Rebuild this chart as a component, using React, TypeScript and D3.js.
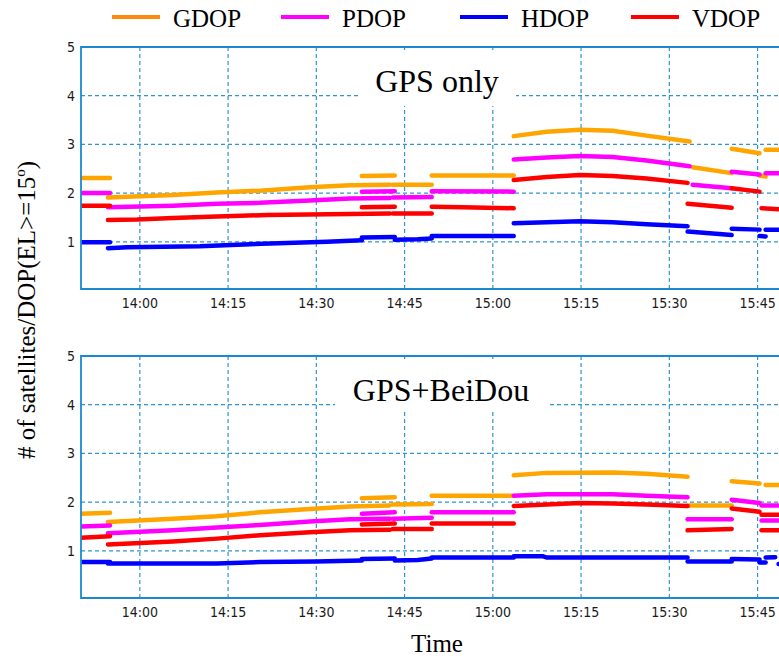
import { useMemo } from "react";
import * as d3 from "d3";

type Seg = [string, number][];

// ---- data (time "HH:MM:SS", DOP value) ----
const gpsGdop: Seg[] = [
  [["13:50:00", 2.31], ["13:54:56", 2.31]],
  [["13:54:35", 1.91], ["14:05:38", 1.96], ["14:13:06", 2.01], ["14:20:24", 2.05], ["14:28:54", 2.12], ["14:35:42", 2.16], ["14:42:29", 2.17]],
  [["14:37:44", 2.35], ["14:43:20", 2.36]],
  [["14:43:00", 2.17], ["14:49:37", 2.17]],
  [["14:49:37", 2.36], ["15:03:33", 2.36]],
  [["15:03:33", 3.17], ["15:09:10", 3.26], ["15:14:46", 3.3], ["15:20:22", 3.28], ["15:26:08", 3.18], ["15:33:27", 3.06]],
  [["15:33:58", 2.53], ["15:40:36", 2.41]],
  [["15:40:36", 2.91], ["15:45:20", 2.82]],
  [["15:45:20", 2.36], ["15:46:22", 2.34]],
  [["15:46:22", 2.89], ["15:50:00", 2.89]],
];
const gpsPdop: Seg[] = [
  [["13:50:00", 2.0], ["13:54:56", 2.0]],
  [["13:54:35", 1.71], ["14:05:38", 1.74], ["14:13:06", 1.78], ["14:20:24", 1.8], ["14:28:54", 1.85], ["14:35:42", 1.89], ["14:42:29", 1.9]],
  [["14:37:44", 2.03], ["14:43:20", 2.04]],
  [["14:43:00", 1.91], ["14:49:37", 1.92]],
  [["14:49:37", 2.04], ["15:03:33", 2.03]],
  [["15:03:33", 2.69], ["15:09:10", 2.73], ["15:14:46", 2.76], ["15:20:22", 2.74], ["15:26:08", 2.67], ["15:33:27", 2.55]],
  [["15:33:58", 2.17], ["15:40:36", 2.1]],
  [["15:40:36", 2.44], ["15:45:20", 2.38]],
  [["15:46:22", 2.41], ["15:50:00", 2.41]],
];
const gpsHdop: Seg[] = [
  [["13:50:00", 0.99], ["13:54:56", 0.99]],
  [["13:54:35", 0.87], ["13:57:49", 0.89], ["14:10:13", 0.91], ["14:18:42", 0.95], ["14:31:48", 1.0], ["14:37:44", 1.03]],
  [["14:37:44", 1.09], ["14:43:20", 1.1]],
  [["14:43:20", 1.04], ["14:47:14", 1.05], ["14:49:37", 1.07]],
  [["14:49:37", 1.12], ["15:03:33", 1.12]],
  [["15:03:33", 1.38], ["15:14:46", 1.42], ["15:20:22", 1.4], ["15:26:08", 1.36], ["15:33:06", 1.32]],
  [["15:33:06", 1.21], ["15:40:36", 1.14]],
  [["15:40:36", 1.27], ["15:45:20", 1.25]],
  [["15:45:20", 1.12], ["15:46:22", 1.11]],
  [["15:46:22", 1.25], ["15:50:00", 1.25]],
];
const gpsVdop: Seg[] = [
  [["13:50:00", 1.74], ["13:54:56", 1.74]],
  [["13:54:35", 1.45], ["13:59:31", 1.46], ["14:05:38", 1.49], ["14:13:06", 1.52], ["14:21:36", 1.55], ["14:35:42", 1.57], ["14:42:29", 1.58]],
  [["14:37:44", 1.71], ["14:43:20", 1.72]],
  [["14:43:00", 1.58], ["14:49:37", 1.58]],
  [["14:49:37", 1.72], ["14:54:53", 1.71], ["15:03:33", 1.69]],
  [["15:03:33", 2.27], ["15:09:10", 2.33], ["15:14:46", 2.37], ["15:20:22", 2.35], ["15:26:08", 2.3], ["15:33:06", 2.21]],
  [["15:33:06", 1.78], ["15:40:36", 1.7]],
  [["15:40:36", 2.1], ["15:45:20", 2.03]],
  [["15:45:40", 1.69], ["15:50:00", 1.66]],
];

const bdsGdop: Seg[] = [
  [["13:50:00", 1.76], ["13:54:56", 1.78]],
  [["13:54:35", 1.59], ["14:05:38", 1.66], ["14:13:06", 1.71], ["14:20:24", 1.79], ["14:28:54", 1.86], ["14:35:42", 1.91], ["14:42:29", 1.93]],
  [["14:37:44", 2.08], ["14:43:20", 2.1]],
  [["14:43:00", 1.95], ["14:49:37", 1.96]],
  [["14:49:37", 2.13], ["15:03:33", 2.13]],
  [["15:03:33", 2.55], ["15:09:10", 2.6], ["15:20:22", 2.61], ["15:26:08", 2.58], ["15:33:06", 2.52]],
  [["15:33:06", 1.93], ["15:40:36", 1.93]],
  [["15:40:36", 2.43], ["15:45:20", 2.38]],
  [["15:46:22", 2.35], ["15:50:00", 2.35]],
];
const bdsPdop: Seg[] = [
  [["13:50:00", 1.5], ["13:54:56", 1.52]],
  [["13:54:35", 1.36], ["14:05:38", 1.42], ["14:13:06", 1.48], ["14:20:24", 1.53], ["14:28:54", 1.6], ["14:35:42", 1.65], ["14:42:29", 1.66]],
  [["14:37:44", 1.76], ["14:43:20", 1.79]],
  [["14:43:00", 1.66], ["14:49:37", 1.68]],
  [["14:49:37", 1.79], ["15:03:33", 1.79]],
  [["15:03:33", 2.13], ["15:09:10", 2.16], ["15:20:22", 2.16], ["15:26:08", 2.13], ["15:33:06", 2.1]],
  [["15:33:06", 1.65], ["15:40:36", 1.65]],
  [["15:40:36", 2.05], ["15:45:20", 1.98]],
  [["15:45:40", 1.93], ["15:50:00", 1.93]],
  [["15:45:40", 1.62], ["15:50:00", 1.62]],
];
const bdsHdop: Seg[] = [
  [["13:50:00", 0.77], ["13:54:56", 0.77]],
  [["13:54:35", 0.74], ["14:13:06", 0.74], ["14:20:24", 0.77], ["14:30:00", 0.78], ["14:37:44", 0.8]],
  [["14:37:44", 0.83], ["14:43:20", 0.84]],
  [["14:43:20", 0.8], ["14:47:14", 0.81], ["14:49:37", 0.84]],
  [["14:49:37", 0.86], ["15:03:33", 0.86]],
  [["15:03:33", 0.89], ["15:08:30", 0.89], ["15:09:10", 0.86], ["15:33:06", 0.86]],
  [["15:33:06", 0.78], ["15:40:36", 0.78]],
  [["15:40:36", 0.83], ["15:45:20", 0.82]],
  [["15:45:20", 0.76], ["15:46:22", 0.76]],
  [["15:46:22", 0.86], ["15:48:00", 0.87]],
  [["15:48:34", 0.73], ["15:50:00", 0.73]],
];
const bdsVdop: Seg[] = [
  [["13:50:00", 1.27], ["13:54:56", 1.3]],
  [["13:54:35", 1.13], ["14:05:38", 1.19], ["14:13:06", 1.25], ["14:20:24", 1.32], ["14:28:54", 1.38], ["14:35:42", 1.42], ["14:42:29", 1.43]],
  [["14:37:44", 1.54], ["14:43:20", 1.56]],
  [["14:43:00", 1.45], ["14:49:37", 1.45]],
  [["14:49:37", 1.56], ["15:03:33", 1.56]],
  [["15:03:33", 1.92], ["15:09:10", 1.95], ["15:14:46", 1.98], ["15:20:22", 1.97], ["15:26:08", 1.95], ["15:33:06", 1.92]],
  [["15:33:06", 1.42], ["15:40:36", 1.45]],
  [["15:40:36", 1.87], ["15:45:20", 1.8]],
  [["15:45:40", 1.74], ["15:50:00", 1.74]],
  [["15:45:40", 1.42], ["15:50:00", 1.42]],
];

const seriesNames = ["GDOP", "PDOP", "HDOP", "VDOP"];
const seriesColors = ["#ffa500", "#ff00ff", "#0000ff", "#ff0000"];
const legendColors = ["#ff8a10", "#ff00ff", "#0000ff", "#ff0000"];
const yTicks = [1, 2, 3, 4, 5];
const timeDomain = ["13:50:00", "15:50:00"];
const tickTimes = ["14:00:00", "14:15:00", "14:30:00", "14:45:00", "15:00:00", "15:15:00", "15:30:00", "15:45:00"];

const parse = d3.timeParse("%H:%M:%S");
const fmt = d3.timeFormat("%H:%M");

const W = 779;
const H = 659;
const left = 81;
const right = 787;
const gridColor = "#2f95d0";
const frameColor = "#1a8ad0";
const tickFont = "'DejaVu Sans Condensed', 'DejaVu Sans', sans-serif";
const serif = "'Liberation Serif', 'Times New Roman', serif";

function Panel({ top, series, title, titleBox }: { top: number; series: Seg[][]; title: string; titleBox: [number, number, number] }) {
  const x = useMemo(() => d3.scaleTime().domain(timeDomain.map((t) => parse(t)!)).range([left, right]), []);
  const y = d3.scaleLinear().domain([0, 5]).range([top + 243.5, top]);
  const bottom = top + 242;
  const line = d3
    .line<[string, number]>()
    .x((d) => x(parse(d[0])!))
    .y((d) => y(d[1]));
  const ticks = tickTimes.map((t) => parse(t)!);
  const clipId = `clip${top}`;
  return (
    <g>
      <defs>
        <clipPath id={clipId}>
          <rect x={left} y={top} width={right - left} height={bottom - top} />
        </clipPath>
      </defs>
      {/* grid */}
      {yTicks.slice(0, -1).map((v) => (
        <line key={"h" + v} x1={left} x2={right} y1={y(v)} y2={y(v)} stroke={gridColor} strokeDasharray="4,3" strokeWidth={1.2} />
      ))}
      {ticks.map((t, i) => (
        <line key={"v" + i} x1={x(t)} x2={x(t)} y1={top} y2={bottom} stroke={gridColor} strokeDasharray="4,3" strokeWidth={1.2} />
      ))}
      {/* title background */}
      <rect x={titleBox[0]} y={top + 3} width={titleBox[1] - titleBox[0]} height={titleBox[2]} fill="#fff" />
      <text x={(titleBox[0] + titleBox[1]) / 2} y={top + 45} textAnchor="middle" fontFamily={serif} fontSize={32} fill="#000">
        {title}
      </text>
      {/* data */}
      <g clipPath={`url(#${clipId})`}>
        {series.map((segs, si) =>
          segs.map((s, k) => (
            <path key={si + "-" + k} d={line(s) || ""} fill="none" stroke={seriesColors[si]} strokeWidth={4.5} strokeLinecap="round" />
          ))
        )}
      </g>
      {/* frame */}
      <path d={`M${right},${top}H${left}V${bottom}H${right}`} fill="none" stroke={frameColor} strokeWidth={1.8} />
      {/* y tick labels */}
      {yTicks.map((v) => (
        <text key={"yl" + v} x={left - 6} y={y(v) + 5} textAnchor="end" fontFamily={tickFont} fontSize={14} fill="#1a1a1a">
          {v}
        </text>
      ))}
      {/* x tick labels */}
      {ticks.map((t, i) => (
        <text key={"xl" + i} x={x(t)} y={bottom + 19} textAnchor="middle" fontFamily={tickFont} fontSize={14} fill="#1a1a1a">
          {fmt(t)}
        </text>
      ))}
    </g>
  );
}

export default function App() {
  const legendX = [112, 281, 460, 631];
  return (
    <svg width={W} height={H} style={{ position: "absolute", left: 0, top: 0, background: "#fff" }}>
      <rect width={W} height={H} fill="#fff" />
      {seriesNames.map((n, i) => (
        <g key={n}>
          <line x1={legendX[i]} x2={legendX[i] + 48} y1={17} y2={17} stroke={legendColors[i]} strokeWidth={4} />
          <text x={legendX[i] + 61} y={27} fontFamily={serif} fontSize={25} fill="#000">
            {n}
          </text>
        </g>
      ))}
      <Panel top={47} series={[gpsGdop, gpsPdop, gpsHdop, gpsVdop]} title="GPS only" titleBox={[358, 516, 56]} />
      <Panel top={356} series={[bdsGdop, bdsPdop, bdsHdop, bdsVdop]} title="GPS+BeiDou" titleBox={[335, 547, 53]} />
      <text transform="translate(35,310) rotate(-90)" textAnchor="middle" fontFamily={serif} fontSize={25} fill="#000">
        # of satellites/DOP(EL{">"}=15
        <tspan fontSize={15} dy={-10}>o</tspan>
        <tspan dy={10}>)</tspan>
      </text>
      <text x={437} y={652} textAnchor="middle" fontFamily={serif} fontSize={25} fill="#000">
        Time
      </text>
    </svg>
  );
}
